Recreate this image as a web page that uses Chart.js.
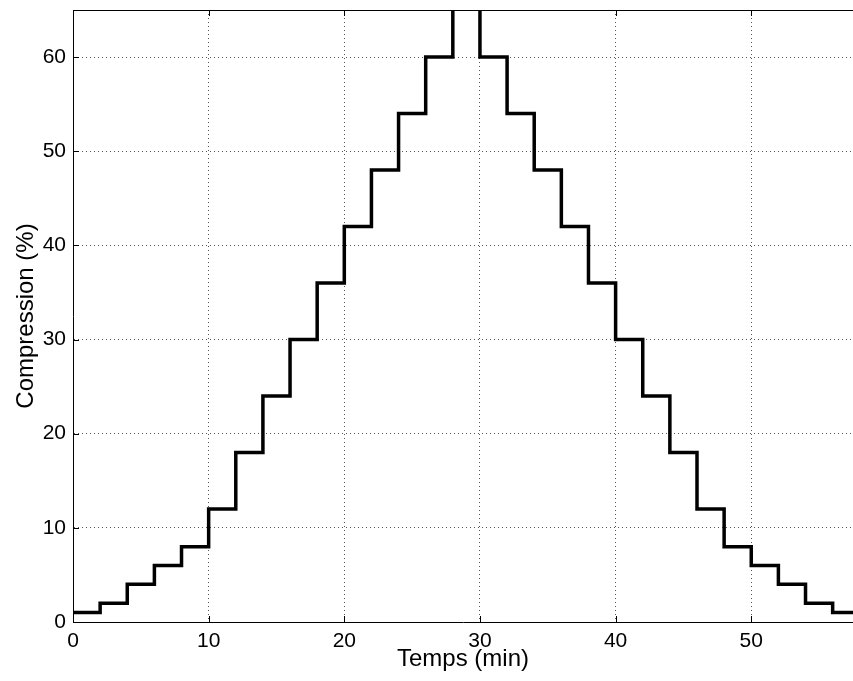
<!DOCTYPE html>
<html>
<head>
<meta charset="utf-8">
<title>Compression</title>
<script src="https://cdn.jsdelivr.net/npm/chart.js@4/dist/chart.umd.min.js"></script>
<style>
  html, body { margin: 0; padding: 0; background: #fff; overflow: hidden; }
  #chart { display: block; }
</style>
</head>
<body>
<canvas id="chart" width="853" height="681"></canvas>
<script>
// Step profile: compression held constant for each 2-minute interval
const stepTimes = [0, 2, 4, 6, 8, 10, 12, 14, 16, 18, 20, 22, 24, 26, 28,
                   30, 32, 34, 36, 38, 40, 42, 44, 46, 48, 50, 52, 54, 56, 58];
const compression = [1, 2, 4, 6, 8, 12, 18, 24, 30, 36, 42, 48, 54, 60, 66,
                     60, 54, 48, 42, 36, 30, 24, 18, 12, 8, 6, 4, 2, 1, 1];

const xRange = [0, 57.5];
const yRange = [0, 65];
const xStep = 10;
const yStep = 10;

const FONT = "'Liberation Sans', Arial, Helvetica, sans-serif";

// MATLAB-style frame: top edge plus short inward tick marks
const frameTicks = {
  id: "frameTicks",
  afterDatasetsDraw(chart) {
    const { ctx, chartArea: a, scales } = chart;
    const len = 6;
    ctx.save();
    ctx.strokeStyle = "#000";
    ctx.lineWidth = 1;
    ctx.beginPath();
    ctx.moveTo(a.left, a.top + 0.5);
    ctx.lineTo(a.right, a.top + 0.5);
    scales.x.ticks.forEach((t) => {
      const px = Math.round(scales.x.getPixelForValue(t.value)) + 0.5;
      ctx.moveTo(px, a.bottom);
      ctx.lineTo(px, a.bottom - len);
      ctx.moveTo(px, a.top);
      ctx.lineTo(px, a.top + len);
    });
    scales.y.ticks.forEach((t) => {
      const py = Math.round(scales.y.getPixelForValue(t.value)) + 0.5;
      ctx.moveTo(a.left, py);
      ctx.lineTo(a.left + len, py);
    });
    ctx.stroke();
    ctx.restore();
  },
};

new Chart(document.getElementById("chart").getContext("2d"), {
  type: "line",
  data: {
    datasets: [
      {
        data: stepTimes.map((t, i) => ({ x: t, y: compression[i] })),
        stepped: "before",
        borderColor: "#000",
        borderWidth: 3.5,
        pointRadius: 0,
        fill: false,
      },
    ],
  },
  options: {
    responsive: false,
    animation: false,
    layout: { padding: { top: 10, left: 0, right: 0, bottom: 0 } },
    plugins: { legend: { display: false }, tooltip: { enabled: false } },
    scales: {
      x: {
        type: "linear",
        min: xRange[0],
        max: xRange[1],
        afterFit: (s) => {
          s.height = 59;
          s.paddingLeft = 0;
          s.paddingRight = 0;
        },
        ticks: {
          stepSize: xStep,
          includeBounds: false,
          color: "#000",
          padding: 7,
          maxRotation: 0,
          font: { family: FONT, size: 21 },
        },
        grid: { color: "#555", lineWidth: 1, drawTicks: false },
        border: { display: true, color: "#000", width: 1, dash: [1, 3] },
        title: {
          display: true,
          text: "Temps (min)",
          color: "#000",
          font: { family: FONT, size: 24 },
          padding: { top: 0, bottom: 7 },
        },
      },
      y: {
        type: "linear",
        min: yRange[0],
        max: yRange[1],
        afterFit: (s) => {
          s.width = 73;
          s.paddingTop = 0;
          s.paddingBottom = 0;
        },
        ticks: {
          stepSize: yStep,
          includeBounds: false,
          color: "#000",
          padding: 7,
          font: { family: FONT, size: 21 },
        },
        grid: { color: "#555", lineWidth: 1, drawTicks: false },
        border: { display: true, color: "#000", width: 1, dash: [1, 3] },
        title: {
          display: true,
          text: "Compression (%)",
          color: "#000",
          font: { family: FONT, size: 24 },
          padding: { top: 12, bottom: 0 },
        },
      },
    },
  },
  plugins: [frameTicks],
});
</script>
</body>
</html>
